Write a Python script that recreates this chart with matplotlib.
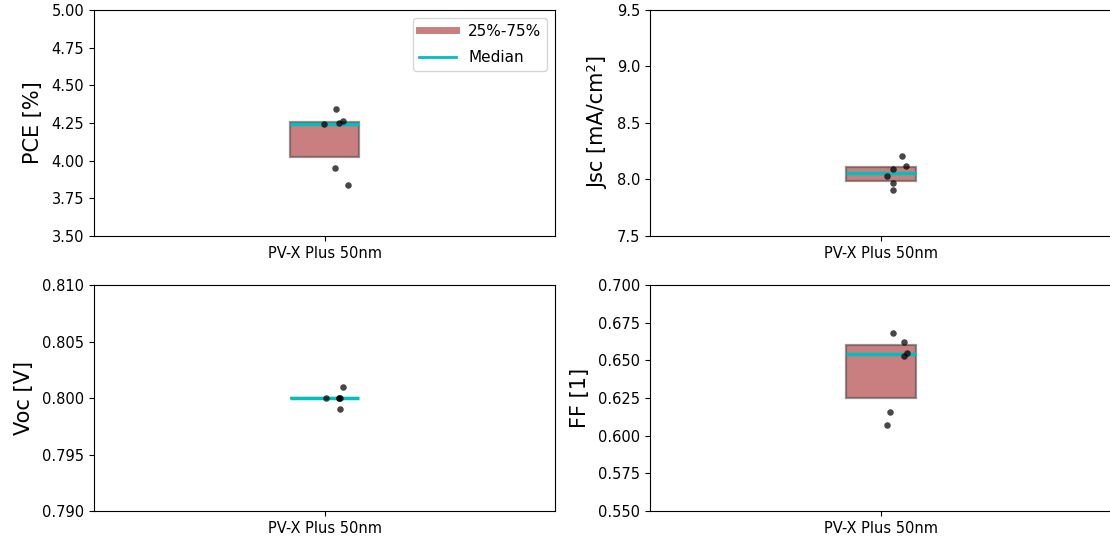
import numpy as np
import matplotlib
matplotlib.use("Agg")
import matplotlib.pyplot as plt
from matplotlib.lines import Line2D

# sample name and measured device parameters
sample = "PV-X Plus 50nm"
pce = [4.34, 4.24, 4.25, 4.26, 3.95, 3.84]
jsc = [8.21, 8.12, 8.09, 8.03, 7.97, 7.91]
voc = [0.800, 0.800, 0.800, 0.801, 0.799, 0.800]
ff = [0.668, 0.662, 0.655, 0.653, 0.616, 0.607]

# horizontal scatter offsets of the individual devices
jit_pce = [0.026, -0.002, 0.032, 0.041, 0.022, 0.050]
jit_jsc = [0.045, 0.054, 0.027, 0.013, 0.027, 0.027]
jit_voc = [0.004, 0.033, 0.031, 0.040, 0.034, 0.031]
jit_ff = [0.027, 0.049, 0.056, 0.050, 0.020, 0.013]

panels = [
    (pce, jit_pce, "PCE [%]", (3.5, 5.0), np.arange(3.5, 5.01, 0.25), "{:.2f}"),
    (jsc, jit_jsc, "Jsc [mA/cm²]", (7.5, 9.5), np.arange(7.5, 9.51, 0.5), "{:.1f}"),
    (voc, jit_voc, "Voc [V]", (0.79, 0.81), np.arange(0.79, 0.8101, 0.005), "{:.3f}"),
    (ff, jit_ff, "FF [1]", (0.55, 0.70), np.arange(0.55, 0.701, 0.025), "{:.3f}"),
]

plt.rcParams["xtick.labelsize"] = 10.5
plt.rcParams["ytick.labelsize"] = 10.5

fig = plt.figure(figsize=(11.1, 5.43), dpi=100)
rects = [
    [0.0847, 0.5654, 0.4153, 0.4162],
    [0.5856, 0.5654, 0.4162, 0.4162],
    [0.0847, 0.0589, 0.4153, 0.4162],
    [0.5856, 0.0589, 0.4162, 0.4162],
]

box_w = 0.15
for i, (vals, jit, label, ylim, ticks, fmt) in enumerate(panels):
    ax = fig.add_axes(rects[i])
    v = np.array(vals)
    q1, med, q3 = np.percentile(v, [25, 50, 75])
    ax.bar(0, q3 - q1, bottom=q1, width=box_w, color="brown", alpha=0.6,
           edgecolor=(0.3, 0.3, 0.3), linewidth=1.6, zorder=2)
    ax.hlines(med, -box_w / 2, box_w / 2, color="c", linewidth=2.5, zorder=3)
    ax.scatter(np.array(jit), v, s=22, color="black", alpha=0.72, zorder=4,
               linewidths=0)
    ax.set_xlim(-0.5, 0.5)
    ax.set_ylim(*ylim)
    ax.set_yticks(ticks)
    ax.set_yticklabels([fmt.format(t) for t in ticks])
    ax.set_xticks([0])
    ax.set_xticklabels([sample])
    ax.set_ylabel(label, fontsize=15, labelpad=6)
    if i == 0:
        handles = [Line2D([], [], color="brown", alpha=0.6, linewidth=5),
                   Line2D([], [], color="c", linewidth=2)]
        ax.legend(handles, ["25%-75%", "Median"], loc="upper right",
                  handlelength=2.4, labelspacing=0.75, fontsize=11)

fig.savefig("out.png", dpi=100)
